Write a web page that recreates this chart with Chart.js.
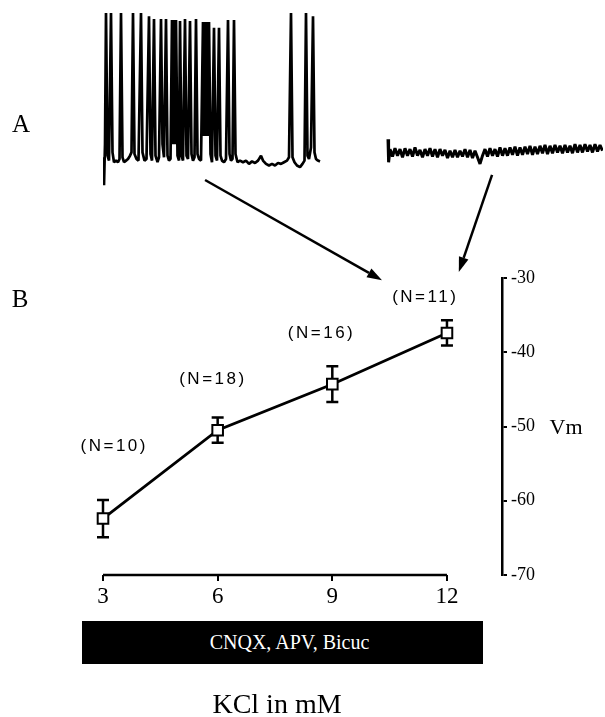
<!DOCTYPE html>
<html>
<head>
<meta charset="utf-8">
<script src="https://cdn.jsdelivr.net/npm/chart.js@4.4.0/dist/chart.umd.min.js"></script>
<style>
  html, body { margin: 0; padding: 0; background: #fff; }
  #page { position: relative; width: 605px; height: 717px; overflow: hidden; font-family: 'Liberation Serif', 'Times New Roman', serif; color: #000; }
  #page canvas { position: absolute; }
  .lbl { position: absolute; white-space: nowrap; transform: translate(-50%, -50%); line-height: 1; }
  #drugBar { position: absolute; left: 82px; top: 621px; width: 401px; height: 43px; background: #000; color: #fff;
             font-size: 20px; display: flex; align-items: center; justify-content: center; padding-left: 14px; box-sizing: border-box; }
</style>
</head>
<body>
<div id="page">
  <canvas id="traces" width="510" height="200" style="left:95px; top:0"></canvas>
  <canvas id="vm" width="605" height="717" style="left:0; top:0"></canvas>
  <div class="lbl" style="left:21px; top:123px; font-size:25px">A</div>
  <div class="lbl" style="left:20px; top:298px; font-size:25px">B</div>
  <div class="lbl" style="left:566px; top:427px; font-size:22px">Vm</div>
  <div id="drugBar">CNQX, APV, Bicuc</div>
  <div class="lbl" style="left:277px; top:704px; font-size:28px">KCl in mM</div>
</div>
<script>
// panel B: resting Vm vs. external KCl (in CNQX, APV, bicuculline)
const kcl = [3, 6, 9, 12];
const vmMean = [-62.4, -50.5, -44.3, -37.4];
const vmSem = [2.5, 1.7, 2.4, 1.7];
const nCells = ['(N=10)', '(N=18)', '(N=16)', '(N=11)'];
const vmRange = [-70, -30];

// panel A: example voltage traces, [time ms, mV]
const traceControl = [
  [0,-58],[10,-75],[20,-50],[30,30],[45,-57],[60,-60],[80,30],[95,-55],[110,-61],[130,-60],[150,-61],[165,-59],
  [180,30],[195,-58],[210,-61],[230,-60],[250,-59],[270,-57],[285,-55],[300,30],[315,-56],[335,-59],[355,-60],
  [380,30],[395,-55],[415,-60],[435,-59],[460,28],[475,-56],[490,-60],[510,26.4],[525,-57],[545,-61],[560,-58],
  [580,26.4],[595,-50],[610,-58],[630,26.4],[645,-57],[660,-60],[675,-59],[690,25.8],[700,-50],[710,25.8],
  [720,-50],[730,25.8],[745,-57],[760,-60],[770,25.2],[785,-57],[800,-60],[820,26.4],[835,-57],[850,-59],
  [870,25.2],[885,-56],[900,-60],[915,-58],[930,26.4],[945,-56],[960,-59],[980,-60],[1000,24.6],[1010,-45],
  [1020,24.6],[1030,-45],[1040,24.6],[1050,-45],[1060,24.6],[1075,-56],[1090,-61],[1110,21],[1125,-57],
  [1140,-60],[1160,21],[1175,-57],[1190,-60],[1210,-61],[1230,-59],[1250,25.8],[1265,-56],[1280,-60],
  [1295,-59],[1310,25.8],[1325,-56],[1345,-61],[1370,-60],[1400,-61],[1430,-60],[1460,-62],[1490,-60.5],
  [1520,-61.5],[1550,-60],[1580,-57],[1600,-60],[1630,-62],[1660,-63],[1690,-62],[1720,-63],[1750,-61.5],
  [1780,-62],[1810,-61],[1840,-60],[1860,-58],[1880,30],[1895,-58],[1915,-61],[1940,-63],[1970,-64],
  [1995,-62],[2015,-60],[2030,30],[2045,-57],[2060,-59],[2080,-52],[2100,28],[2115,-55],[2130,-59],
  [2150,-60],[2170,-60.5]
];
const traceBlocked = [
  [2850,-47],[2856,-61],[2870,-53],[2895,-57.5],[2920,-52.5],[2945,-57],[2970,-53],[2995,-58],[3020,-52.5],
  [3045,-57],[3070,-53],[3095,-57.5],[3120,-52],[3145,-57],[3170,-53.5],[3195,-58],[3220,-53],[3245,-57],
  [3270,-52.5],[3295,-57.5],[3320,-53],[3345,-58],[3370,-53],[3395,-57],[3420,-53.5],[3445,-58.5],[3470,-54],
  [3495,-58],[3520,-53.5],[3545,-58],[3570,-54],[3595,-57.5],[3620,-53],[3645,-58],[3670,-53.5],[3695,-58.5],
  [3720,-54],[3745,-58],[3770,-62],[3795,-57],[3820,-53],[3845,-57.5],[3870,-52.5],[3895,-57],[3920,-53],
  [3945,-57.5],[3970,-52],[3995,-57],[4020,-52.5],[4045,-57],[4070,-52],[4095,-56.5],[4120,-51.5],[4145,-57],
  [4170,-52],[4195,-56.5],[4220,-51.5],[4245,-56],[4270,-51],[4295,-56.5],[4320,-51.5],[4345,-56],[4370,-51],
  [4395,-55.5],[4420,-50.5],[4445,-56],[4470,-51],[4495,-55.5],[4520,-50.5],[4545,-55],[4570,-51],[4595,-55.5],
  [4620,-50.5],[4645,-55],[4670,-51],[4695,-55.5],[4720,-50],[4745,-55],[4770,-50.5],[4795,-55],[4820,-50],
  [4845,-54.5],[4870,-50.5],[4895,-55],[4920,-50],[4945,-54.5],[4970,-50.5],[4995,-54]
];

// label offsets (px) of the N counts from their points, and the A->B arrows in panel B data units
const nOffsets = [[10, -72], [-6, -51], [-12, -51], [-23, -36]];
const arrowLinks = [
  { from: [5.67, -16.8], to: [10.3, -30.3] },
  { from: [13.18, -16.1], to: [12.31, -29.2] }
];

const SERIF = "'Liberation Serif', 'Times New Roman', serif";

const errorBars = {
  id: 'errorBars',
  beforeDatasetsDraw(chart) {
    const { ctx, scales: { x, y } } = chart;
    ctx.save();
    ctx.strokeStyle = '#000';
    ctx.lineWidth = 2.5;
    kcl.forEach((k, i) => {
      const px = x.getPixelForValue(k);
      const top = y.getPixelForValue(vmMean[i] + vmSem[i]);
      const bot = y.getPixelForValue(vmMean[i] - vmSem[i]);
      ctx.beginPath();
      ctx.moveTo(px, top); ctx.lineTo(px, bot);
      ctx.moveTo(px - 6, top); ctx.lineTo(px + 6, top);
      ctx.moveTo(px - 6, bot); ctx.lineTo(px + 6, bot);
      ctx.stroke();
    });
    ctx.restore();
  }
};

const annotations = {
  id: 'annotations',
  afterDraw(chart) {
    const { ctx, scales: { x, y } } = chart;
    ctx.save();
    // N labels
    ctx.font = "17px 'Liberation Sans', Arial, sans-serif";
    ctx.letterSpacing = '2.5px';
    ctx.fillStyle = '#000';
    ctx.textAlign = 'center';
    ctx.textBaseline = 'middle';
    kcl.forEach((k, i) => {
      ctx.fillText(nCells[i], x.getPixelForValue(k) + nOffsets[i][0] + 1.25, y.getPixelForValue(vmMean[i]) + nOffsets[i][1]);
    });
    // arrows from the traces to the points
    ctx.strokeStyle = '#000';
    ctx.lineWidth = 2.5;
    arrowLinks.forEach(a => {
      const x0 = x.getPixelForValue(a.from[0]), y0 = y.getPixelForValue(a.from[1]);
      const x1 = x.getPixelForValue(a.to[0]), y1 = y.getPixelForValue(a.to[1]);
      const ang = Math.atan2(y1 - y0, x1 - x0);
      const hl = 15, hw = 5;
      const bx = x1 - hl * Math.cos(ang), by = y1 - hl * Math.sin(ang);
      ctx.beginPath();
      ctx.moveTo(x0, y0); ctx.lineTo(bx, by);
      ctx.stroke();
      ctx.beginPath();
      ctx.moveTo(x1, y1);
      ctx.lineTo(bx + hw * Math.sin(ang), by - hw * Math.cos(ang));
      ctx.lineTo(bx - hw * Math.sin(ang), by + hw * Math.cos(ang));
      ctx.closePath();
      ctx.fill();
    });
    ctx.restore();
  }
};

new Chart(document.getElementById('traces'), {
  type: 'line',
  data: {
    datasets: [
      { data: traceControl.map(([t, v]) => ({ x: t, y: v })), borderColor: '#000', borderWidth: 2.7,
        borderJoinStyle: 'bevel', pointRadius: 0, tension: 0 },
      { data: traceBlocked.map(([t, v]) => ({ x: t, y: v })), borderColor: '#000', borderWidth: 3,
        borderJoinStyle: 'bevel', pointRadius: 0, tension: 0 }
    ]
  },
  options: {
    responsive: false,
    animation: false,
    events: [],
    layout: { padding: { left: 8, right: 2, top: 0, bottom: 5 } },
    plugins: { legend: { display: false }, tooltip: { enabled: false } },
    scales: {
      x: { type: 'linear', display: false, min: 0, max: 5000 },
      y: { display: false, min: -81, max: 38 }
    }
  }
});

new Chart(document.getElementById('vm'), {
  type: 'line',
  data: {
    datasets: [
      { data: kcl.map((k, i) => ({ x: k, y: vmMean[i] })), borderColor: '#000', borderWidth: 2.8,
        pointStyle: 'rect', pointRadius: 7.5, pointBackgroundColor: '#fff', pointBorderColor: '#000',
        pointBorderWidth: 2, tension: 0, clip: false },
      // x axis line, only across the tested KCl range
      { data: [{ x: kcl[0], y: vmRange[0] }, { x: kcl[kcl.length - 1], y: vmRange[0] }], borderColor: '#000',
        borderWidth: 2.5, pointRadius: 0, clip: false }
    ]
  },
  options: {
    responsive: false,
    animation: false,
    events: [],
    layout: { padding: { left: 103, top: 278, right: 0, bottom: 0 } },
    plugins: { legend: { display: false }, tooltip: { enabled: false } },
    scales: {
      x: {
        type: 'linear', min: 3, max: 13.44,
        afterBuildTicks: s => { s.ticks = kcl.map(v => ({ value: v })); },
        afterFit: s => { s.height = 142; },
        border: { display: false },
        grid: { drawOnChartArea: false, tickLength: 6, color: '#000', lineWidth: 2 },
        ticks: { color: '#000', font: { family: SERIF, size: 23 }, padding: 2, maxRotation: 0 }
      },
      y: {
        position: 'right', min: vmRange[0], max: vmRange[1],
        afterFit: s => { s.width = 103; },
        border: { display: true, color: '#000', width: 2.5 },
        grid: { drawOnChartArea: false, tickLength: 5, color: '#000', lineWidth: 2 },
        ticks: { stepSize: 10, color: '#000', font: { family: SERIF, size: 18 }, padding: 4 }
      }
    }
  },
  plugins: [errorBars, annotations]
});
</script>
</body>
</html>
